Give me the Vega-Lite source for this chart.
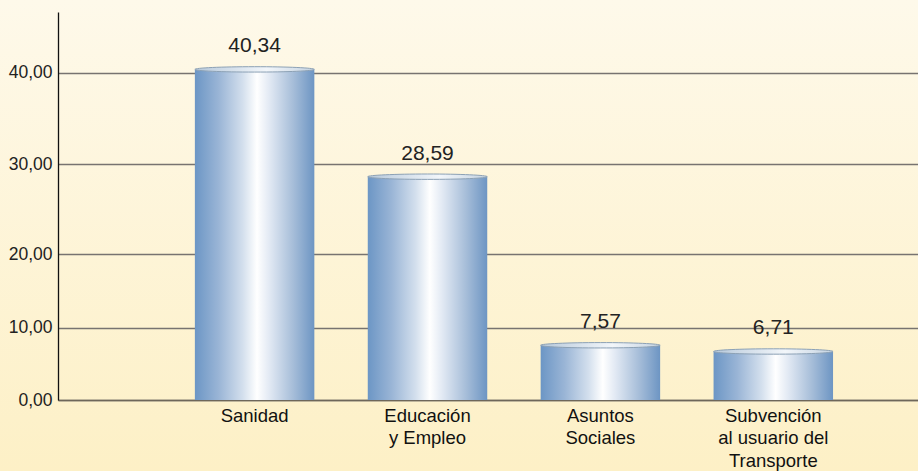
{
  "$schema": "https://vega.github.io/schema/vega-lite/v6.json",
  "width": 918,
  "height": 471,
  "autosize": {"type": "none"},
  "padding": 0,
  "background": "#FDF5DB",
  "view": {
    "stroke": null,
    "fill": {
      "gradient": "linear", "x1": 0, "y1": 0, "x2": 0, "y2": 1,
      "stops": [{"offset": 0, "color": "#FEF9EA"}, {"offset": 1, "color": "#FDF0C6"}]
    }
  },
  "config": {
    "locale": {"number": {"decimal": ",", "thousands": ".", "grouping": [3], "currency": ["", " €"]}},
    "font": "Liberation Sans, Arial, sans-serif"
  },
  "data": {
    "values": [
      {"categoria": "Sanidad", "valor": 40.34},
      {"categoria": "Educación|y Empleo", "valor": 28.59},
      {"categoria": "Asuntos|Sociales", "valor": 7.57},
      {"categoria": "Subvención|al usuario del|Transporte", "valor": 6.71}
    ]
  },
  "encoding": {
    "x": {
      "field": "categoria", "type": "nominal", "sort": null,
      "scale": {"range": [58, 918], "paddingInner": 0.309, "paddingOuter": 0.6415, "align": 0.617},
      "axis": {
        "title": null, "orient": "bottom", "offset": -71, "ticks": false,
        "labelAngle": 0, "labelPadding": 6, "labelFontSize": 18.5, "labelLineHeight": 22.5,
        "labelExpr": "split(datum.label, '|')", "labelLimit": 0,
        "labelFont": "Liberation Sans, Arial, sans-serif",
        "labelColor": "#111111", "domainColor": "#6E675A", "domainWidth": 1.5, "grid": false
      }
    },
    "y": {
      "field": "valor", "type": "quantitative",
      "scale": {"domain": [0, 10, 20, 30, 40, 46.6], "range": [400, 327.7, 254, 164, 72.5, 12], "nice": false, "zero": false},
      "axis": {
        "title": null, "values": [0, 10, 20, 30, 40], "format": ".2f", "ticks": false,
        "offset": -58,
        "labelPadding": 6, "labelFontSize": 17.5, "labelColor": "#222222",
        "labelFont": "Liberation Sans, Arial, sans-serif",
        "domainColor": "#111111", "domainWidth": 1.3,
        "grid": true, "gridColor": "#777370", "gridWidth": 1.3, "gridOpacity": 1
      }
    }
  },
  "layer": [
    {
      "mark": {
        "type": "bar",
        "fill": {
          "gradient": "linear", "x1": 0, "y1": 0, "x2": 1, "y2": 0,
          "stops": [
            {"offset": 0, "color": "#6C96C5"},
            {"offset": 0.2, "color": "#9AB5D6"},
            {"offset": 0.4, "color": "#D3DFED"},
            {"offset": 0.52, "color": "#FFFFFF"},
            {"offset": 0.62, "color": "#E3EAF4"},
            {"offset": 0.82, "color": "#A7BED9"},
            {"offset": 1, "color": "#6D95C3"}
          ]
        }
      }
    },
    {
      "mark": {
        "type": "point",
        "shape": "M-1,0 C-1,-0.025 -0.552,-0.045 0,-0.045 C0.552,-0.045 1,-0.025 1,0 C1,0.025 0.552,0.045 0,0.045 C-0.552,0.045 -1,0.025 -1,0 Z",
        "size": 14280,
        "filled": true,
        "opacity": 1,
        "fill": {
          "gradient": "linear", "x1": 0, "y1": 0, "x2": 1, "y2": 0,
          "stops": [
            {"offset": 0, "color": "#B7C9DB"},
            {"offset": 0.6, "color": "#F2F6FA"},
            {"offset": 1, "color": "#C5D3E1"}
          ]
        },
        "stroke": "#8CA1B5",
        "strokeWidth": 1
      }
    },
    {
      "mark": {
        "type": "text", "dy": -17, "baseline": "alphabetic", "fontSize": 21,
        "font": "Liberation Sans, Arial, sans-serif",
        "color": "#222222"
      },
      "encoding": {"text": {"field": "valor", "type": "quantitative", "format": ".2f"}}
    }
  ]
}
